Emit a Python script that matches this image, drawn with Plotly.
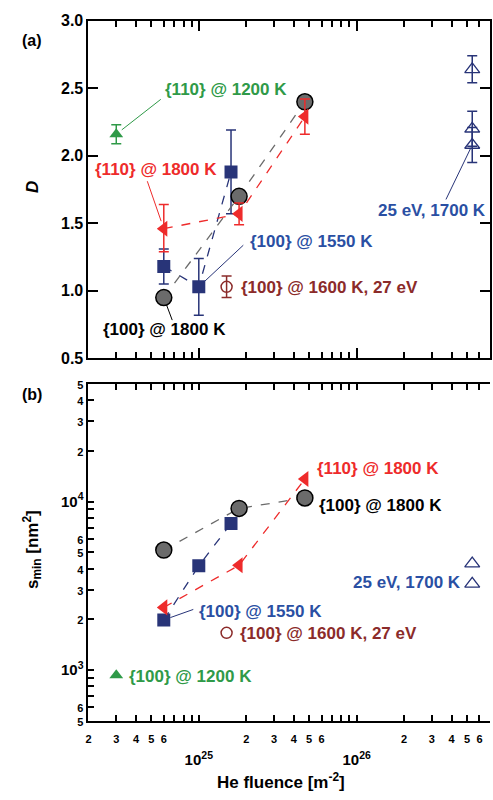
import math
import plotly.graph_objects as go

W, H = 493, 800

# ---------------- panel (a): dimension D vs He fluence ----------------
fl_100_1800 = [6e24, 1.8e25, 4.7e25]
D_100_1800 = [0.95, 1.70, 2.40]

fl_110_1800 = [6e24, 1.8e25, 4.7e25]
D_110_1800 = [1.46, 1.57, 2.29]
D_110_1800_errp = [0.18, 0.08, 0.13]
D_110_1800_errm = [0.17, 0.08, 0.13]

fl_100_1550 = [6e24, 1.0e25, 1.6e25]
D_100_1550 = [1.18, 1.03, 1.88]
D_100_1550_err = [0.13, 0.21, 0.31]

fl_100_1600 = [1.5e25]
D_100_1600 = [1.03]
D_100_1600_err = [0.08]

fl_110_1200 = [3e24]
D_110_1200 = [2.16]
D_110_1200_err = [0.07]

fl_25eV = [5.4e26, 5.4e26, 5.4e26]
D_25eV = [2.64, 2.20, 2.08]
D_25eV_err = [0.10, 0.13, 0.13]

# ---------------- panel (b): s_min vs He fluence ----------------
S_100_1800 = [5150, 9100, 10500]
S_110_1800 = [2350, 4180, 13600]
S_100_1550 = [1980, 4150, 7400]
S_100_1600 = [1660]
fl_100_1200 = [3e24]
S_100_1200 = [930]
fl_25eV_b = [5.4e26, 5.4e26]
S_25eV = [4280, 3240]

# axis ticks
x_decades = [1e25, 1e26]
x_decade_text = ["10<sup>25</sup>", "10<sup>26</sup>"]
x_digit_vals = [2e24, 3e24, 4e24, 5e24, 6e24, 2e25, 3e25, 4e25, 5e25, 6e25,
                2e26, 3e26, 4e26, 5e26, 6e26]
x_digit_text = ["2", "3", "4", "5", "6"] * 3
x_unlabeled = [7e24, 8e24, 9e24, 7e25, 8e25, 9e25, 7e26]
y_a_ticks = [0.5, 1.0, 1.5, 2.0, 2.5, 3.0]
y_a_text = ["0.5", "1.0", "1.5", "2.0", "2.5", "3.0"]
y_b_decades = [1e3, 1e4]
y_b_decade_text = ["10<sup>3</sup>", "10<sup>4</sup>"]
y_b_digit_vals = [500, 600, 2000, 3000, 4000, 5000, 6000, 20000, 30000, 40000, 50000]
y_b_digit_text = ["5", "6", "2", "3", "4", "5", "6", "2", "3", "4", "5"]
y_b_unlabeled = [700, 800, 900, 7000, 8000, 9000]

GREEN = "#2f9a48"
RED = "#ee2b2b"
NAVY = "#283478"
BLUE_TXT = "#2a4fa3"
BROWN = "#8b2b2a"
GREY = "#6b6b6b"
FONT = "Liberation Sans, Arial, sans-serif"


def sized(t, px):
    return "<span style='font-size:%dpx'>%s</span>" % (px, t)


fig = go.Figure()


def err(arr, arrm=None, color="black"):
    d = dict(type="data", array=arr, color=color, thickness=1.5, width=5)
    if arrm is not None:
        d["arrayminus"] = arrm
        d["symmetric"] = False
    return d


# --- panel (a) traces ---
fig.add_trace(go.Scatter(x=fl_100_1550, y=D_100_1550, mode="lines+markers",
                         line=dict(color=NAVY, width=1.3, dash="dash"),
                         marker=dict(symbol="square", size=13, color=NAVY),
                         error_y=err(D_100_1550_err, color=NAVY),
                         xaxis="x", yaxis="y"))
fig.add_trace(go.Scatter(x=fl_100_1600, y=D_100_1600, mode="markers",
                         marker=dict(symbol="circle-open", size=11, color=BROWN,
                                     line=dict(width=1.5)),
                         error_y=err(D_100_1600_err, color=BROWN),
                         xaxis="x", yaxis="y"))
fig.add_trace(go.Scatter(x=fl_100_1800, y=D_100_1800, mode="lines+markers",
                         line=dict(color=GREY, width=1.3, dash="dash"),
                         marker=dict(symbol="circle", size=16, color=GREY,
                                     line=dict(color="black", width=1.5)),
                         xaxis="x", yaxis="y"))
fig.add_trace(go.Scatter(x=fl_110_1800, y=D_110_1800, mode="lines+markers",
                         line=dict(color=RED, width=1.3, dash="dash"),
                         marker=dict(symbol="triangle-left", size=14, color=RED),
                         error_y=err(D_110_1800_errp, D_110_1800_errm, color=RED),
                         xaxis="x", yaxis="y"))
fig.add_trace(go.Scatter(x=fl_110_1200, y=D_110_1200, mode="markers",
                         marker=dict(symbol="triangle-up", size=12, color=GREEN),
                         error_y=err(D_110_1200_err, color=GREEN),
                         xaxis="x", yaxis="y"))
fig.add_trace(go.Scatter(x=fl_25eV, y=D_25eV, mode="markers",
                         marker=dict(symbol="triangle-up-open", size=13, color=NAVY,
                                     line=dict(width=1.3)),
                         error_y=err(D_25eV_err, color=NAVY),
                         xaxis="x", yaxis="y"))

# --- panel (b) traces ---
fig.add_trace(go.Scatter(x=fl_100_1800, y=S_100_1800, mode="lines+markers",
                         line=dict(color=GREY, width=1.3, dash="dash"),
                         marker=dict(symbol="circle", size=16, color=GREY,
                                     line=dict(color="black", width=1.5)),
                         xaxis="x2", yaxis="y2"))
fig.add_trace(go.Scatter(x=fl_100_1550, y=S_100_1550, mode="lines+markers",
                         line=dict(color=NAVY, width=1.3, dash="dash"),
                         marker=dict(symbol="square", size=13, color=NAVY),
                         xaxis="x2", yaxis="y2"))
fig.add_trace(go.Scatter(x=fl_110_1800, y=S_110_1800, mode="lines+markers",
                         line=dict(color=RED, width=1.3, dash="dash"),
                         marker=dict(symbol="triangle-left", size=14, color=RED),
                         xaxis="x2", yaxis="y2"))
fig.add_trace(go.Scatter(x=fl_100_1600, y=S_100_1600, mode="markers",
                         marker=dict(symbol="circle-open", size=11, color=BROWN,
                                     line=dict(width=1.5)),
                         xaxis="x2", yaxis="y2"))
fig.add_trace(go.Scatter(x=fl_100_1200, y=S_100_1200, mode="markers",
                         marker=dict(symbol="triangle-up", size=12, color=GREEN),
                         xaxis="x2", yaxis="y2"))
fig.add_trace(go.Scatter(x=fl_25eV_b, y=S_25eV, mode="markers",
                         marker=dict(symbol="triangle-up-open", size=13, color=NAVY,
                                     line=dict(width=1.3)),
                         xaxis="x2", yaxis="y2"))

# --- axes ---
xdom = [86 / W, 490 / W]
xrange_log = [math.log10(2e24), math.log10(7e26)]
yrange_b = [math.log10(500), math.log10(50000)]
dom_a = [1 - 358 / H, 1 - 13 / H]
dom_b = [1 - 728 / H, 1 - 384 / H]

common = dict(showgrid=False, zeroline=False, showline=True, linecolor="black",
              linewidth=2, ticks="inside", tickcolor="black", tickwidth=1.8)
minor_style = dict(ticklen=6, ticks="inside", tickcolor="black", tickwidth=1.5)

fig.update_layout(
    xaxis=dict(domain=xdom, type="log", range=xrange_log, anchor="y",
               tickvals=x_decades, ticklen=10, showticklabels=False, mirror="ticks",
               minor=dict(tickvals=x_digit_vals + x_unlabeled, **minor_style),
               **common),
    yaxis=dict(domain=dom_a, range=[0.5, 3.0], anchor="x", tickvals=y_a_ticks,
               ticktext=y_a_text, ticklen=10, mirror="ticks",
               tickfont=dict(family=FONT, size=16, color="black", weight="bold"),
               **common),
    xaxis2=dict(domain=xdom, type="log", range=xrange_log, anchor="y2",
                tickvals=x_digit_vals + x_decades,
                ticktext=[sized(t, 11) for t in x_digit_text]
                + ["<br>" + sized(t, 15) for t in x_decade_text],
                ticklen=6, mirror="ticks",
                tickfont=dict(family=FONT, size=17, color="black", weight="bold"),
                minor=dict(tickvals=x_unlabeled, **minor_style),
                **common),
    yaxis2=dict(domain=dom_b, type="log", range=yrange_b, anchor="x2",
                tickvals=y_b_digit_vals + y_b_decades,
                ticktext=[sized(t, 11) for t in y_b_digit_text] + y_b_decade_text,
                ticklen=6, mirror=False,
                tickfont=dict(family=FONT, size=15, color="black", weight="bold"),
                minor=dict(tickvals=y_b_unlabeled, **minor_style),
                **common),
    # long decade ticks of panel (b), drawn on both sides of the frame
    xaxis3=dict(domain=xdom, type="log", range=xrange_log, anchor="y2",
                overlaying="x2", tickvals=x_decades, ticklen=10,
                showticklabels=False, mirror="ticks", **common),
    yaxis3=dict(domain=dom_b, type="log", range=yrange_b, anchor="x2",
                overlaying="y2", tickvals=y_b_decades, ticklen=10,
                showticklabels=False, mirror="ticks", **common),
    width=W, height=H, margin=dict(l=0, r=0, t=0, b=0),
    paper_bgcolor="white", plot_bgcolor="white", showlegend=False,
    font=dict(family=FONT, color="black"),
)

annotations = []


def label(text, px, py, color, size=17, xanchor="left"):
    annotations.append(dict(text=text, xref="paper", yref="paper", x=px / W,
                            y=1 - py / H, xanchor=xanchor, yanchor="middle",
                            showarrow=False,
                            font=dict(family=FONT, size=size, color=color,
                                      weight="bold")))


def title(text, px, py, angle=0):
    annotations.append(dict(text=text, xref="paper", yref="paper", x=px / W,
                            y=1 - py / H, xanchor="center", yanchor="middle",
                            textangle=angle, showarrow=False,
                            font=dict(family=FONT, size=17, color="black",
                                      weight="bold")))


def pointer(xa, ya, xv, yv, ax, ay, color, standoff, ylog=False):
    annotations.append(dict(text="", xref=xa, yref=ya, x=math.log10(xv),
                            y=math.log10(yv) if ylog else yv,
                            showarrow=True, arrowhead=0, arrowwidth=1,
                            arrowcolor=color, ax=ax, ay=ay, standoff=standoff))


# panel letters and axis titles
label("(a)", 17, 33, "black", 16)
label("(b)", 17, 395, "black", 16)
title("<i>D</i>", 29, 183, -90)
title("s<sub>min</sub> [nm<sup>2</sup>]", 29, 553, -90)
title("He fluence [m<sup>-2</sup>]", 280, 790)

# panel (a) labels
label("{110} @ 1200 K", 161, 83, GREEN)
label("{110} @ 1800 K", 91, 165, RED)
label("{100} @ 1550 K", 246, 239, BLUE_TXT)
label("{100} @ 1600 K, 27 eV", 237, 286, BROWN)
label("{100} @ 1800 K", 99, 328, "black")
label("25 eV, 1700 K", 375, 207, BLUE_TXT)

pointer("x", "y", fl_110_1200[0], D_110_1200[0], 46, -36, GREEN, 7)
pointer("x", "y", fl_110_1800[0], D_110_1800[0], -17, -49, RED, 8)
pointer("x", "y", fl_100_1550[1], D_100_1550[1], 46, -43, NAVY, 7)
pointer("x", "y", fl_100_1800[0], D_100_1800[0], 9, 24, "black", 8)
pointer("x", "y", fl_25eV[2], D_25eV[2], -27, 56, NAVY, 3)

# panel (b) labels
label("{110} @ 1800 K", 314, 470, RED)
label("{100} @ 1800 K", 316, 508, "black")
label("25 eV, 1700 K", 463, 587, BLUE_TXT, xanchor="right")
label("{100} @ 1550 K", 195, 617, BLUE_TXT)
label("{100} @ 1600 K, 27 eV", 236, 639, BROWN)
label("{100} @ 1200 K", 125, 683, GREEN)

pointer("x2", "y2", fl_100_1550[0], S_100_1550[0], 31, -11, NAVY, 7, ylog=True)

fig.update_layout(annotations=annotations)
fig.write_html("out.html")
